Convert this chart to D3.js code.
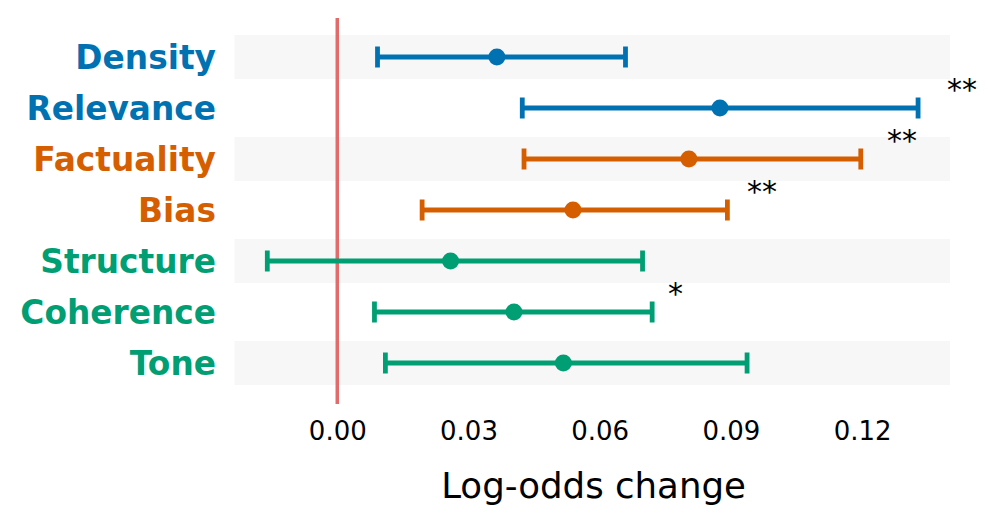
<!DOCTYPE html>
<html>
<head>
<meta charset="utf-8">
<script src="https://cdn.jsdelivr.net/npm/d3@7"></script>
<style>
  html, body { margin: 0; padding: 0; background: #ffffff; }
  svg { display: block; }
</style>
</head>
<body>
<svg id="chart" width="996" height="525"></svg>
<script>
// ---- data ----
const categories = ["Density", "Relevance", "Factuality", "Bias", "Structure", "Coherence", "Tone"];
const estimates  = [0.0365, 0.0875, 0.0804, 0.0539, 0.0259, 0.0404, 0.0517];
const lowerCI    = [0.0092, 0.0423, 0.0427, 0.0194, -0.0160, 0.0085, 0.0110];
const upperCI    = [0.0659, 0.1328, 0.1197, 0.0892, 0.0698, 0.0720, 0.0937];
const signif     = ["", "**", "**", "**", "", "*", ""];
const groups     = ["content", "content", "accuracy", "accuracy", "style", "style", "style"];
const xTicks     = [0.00, 0.03, 0.06, 0.09, 0.12];
const xLabel     = "Log-odds change";

const groupColors = { content: "#0072B2", accuracy: "#D55E00", style: "#009E73" };

// ---- layout ----
const svg = d3.select("#chart");
const plotLeft = 234.5, plotRight = 950, plotTop = 18, plotBottom = 404;

const x = d3.scaleLinear().domain([-0.0235, 0.1401]).range([plotLeft, plotRight]);
const y = d3.scalePoint().domain(categories).range([57, 363]);
const bandH = 44;

const rows = categories.map((c, i) => ({
  cat: c, est: estimates[i], lo: lowerCI[i], hi: upperCI[i], sig: signif[i],
  color: groupColors[groups[i]], i
}));

// alternating background bands
svg.append("g").selectAll("rect")
  .data(rows.filter(d => d.i % 2 === 0))
  .join("rect")
  .attr("x", plotLeft).attr("width", plotRight - plotLeft)
  .attr("y", d => y(d.cat) - bandH / 2).attr("height", bandH)
  .attr("fill", "#f7f7f7");

// zero reference line
svg.append("line")
  .attr("x1", x(0)).attr("x2", x(0))
  .attr("y1", plotTop).attr("y2", plotBottom)
  .attr("stroke", "#e36a6a").attr("stroke-width", 3.5);

// error bars
const g = svg.append("g");
g.selectAll("line.ci")
  .data(rows).join("line").attr("class", "ci")
  .attr("x1", d => x(d.lo)).attr("x2", d => x(d.hi))
  .attr("y1", d => y(d.cat)).attr("y2", d => y(d.cat))
  .attr("stroke", d => d.color).attr("stroke-width", 4.8);

g.selectAll("line.capL")
  .data(rows).join("line").attr("class", "capL")
  .attr("x1", d => x(d.lo)).attr("x2", d => x(d.lo))
  .attr("y1", d => y(d.cat) - 10.5).attr("y2", d => y(d.cat) + 10.5)
  .attr("stroke", d => d.color).attr("stroke-width", 4.8);

g.selectAll("line.capR")
  .data(rows).join("line").attr("class", "capR")
  .attr("x1", d => x(d.hi)).attr("x2", d => x(d.hi))
  .attr("y1", d => y(d.cat) - 10.5).attr("y2", d => y(d.cat) + 10.5)
  .attr("stroke", d => d.color).attr("stroke-width", 4.8);

g.selectAll("circle")
  .data(rows).join("circle")
  .attr("cx", d => x(d.est)).attr("cy", d => y(d.cat))
  .attr("r", 8.5).attr("fill", d => d.color);

// significance stars
svg.append("g").selectAll("text")
  .data(rows.filter(d => d.sig))
  .join("text")
  .attr("x", d => x(d.hi * 1.05))
  .attr("y", d => y(d.cat) - 8)
  .attr("font-family", "DejaVu Sans")
  .attr("font-size", 30)
  .attr("fill", "#000")
  .text(d => d.sig);

// category labels
svg.append("g").selectAll("text")
  .data(rows).join("text")
  .attr("x", 216)
  .attr("y", d => y(d.cat) + 11.5)
  .attr("text-anchor", "end")
  .attr("font-family", "DejaVu Sans")
  .attr("font-weight", "bold")
  .attr("font-size", 32.8)
  .attr("fill", d => d.color)
  .text(d => d.cat);

// x axis (tick labels only)
const xAxis = d3.axisBottom(x).tickValues(xTicks).tickFormat(d3.format(".2f")).tickSize(0).tickPadding(0);
const ax = svg.append("g").attr("transform", `translate(0, ${plotBottom})`).call(xAxis);
ax.select(".domain").remove();
ax.selectAll("text")
  .attr("y", 35.5).attr("dy", null)
  .attr("font-family", "DejaVu Sans")
  .attr("font-size", 26)
  .attr("fill", "#000");

// x label
svg.append("text")
  .attr("x", x(0.0586)).attr("y", 498)
  .attr("text-anchor", "middle")
  .attr("font-family", "DejaVu Sans")
  .attr("font-size", 35.6)
  .attr("fill", "#000")
  .text(xLabel);
</script>
</body>
</html>
